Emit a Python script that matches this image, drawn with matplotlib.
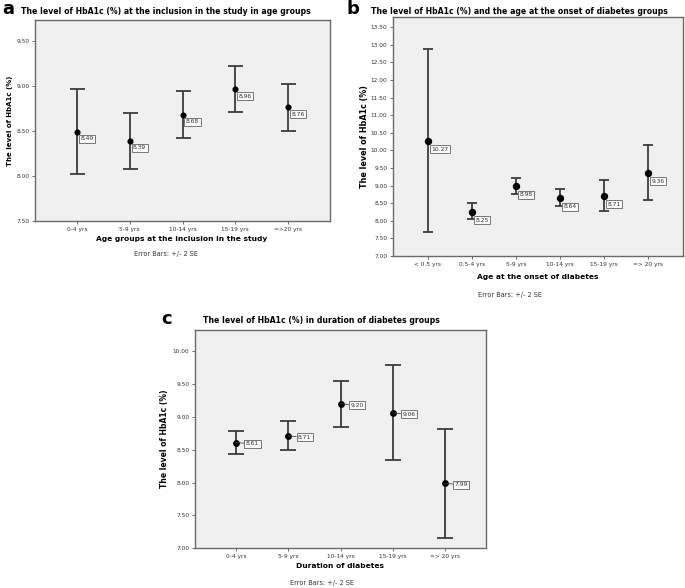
import matplotlib
matplotlib.use('Agg')
import matplotlib.pyplot as plt
import numpy as np

W, H = 685, 588

# ---- data ----
a_cats = ['0-4 yrs', '5-9 yrs', '10-14 yrs', '15-19 yrs', '=>20 yrs']
a_mean = [8.49, 8.39, 8.68, 8.96, 8.76]
a_lo = [8.02, 8.08, 8.42, 8.71, 8.50]
a_hi = [8.97, 8.70, 8.94, 9.22, 9.02]
a_yticks = [7.50, 8.00, 8.50, 9.00, 9.50]

b_cats = ['< 0.5 yrs', '0.5-4 yrs', '5-9 yrs', '10-14 yrs', '15-19 yrs', '=> 20 yrs']
b_mean = [10.27, 8.25, 8.98, 8.64, 8.71, 9.36]
b_lo = [7.69, 8.04, 8.76, 8.41, 8.29, 8.59]
b_hi = [12.87, 8.50, 9.22, 8.91, 9.15, 10.15]
b_yticks = [7.00, 7.50, 8.00, 8.50, 9.00, 9.50, 10.00, 10.50, 11.00, 11.50,
            12.00, 12.50, 13.00, 13.50]

c_cats = ['0-4 yrs', '5-9 yrs', '10-14 yrs', '15-19 yrs', '=> 20 yrs']
c_mean = [8.61, 8.71, 9.20, 9.06, 7.99]
c_lo = [8.44, 8.49, 8.85, 8.34, 7.16]
c_hi = [8.79, 8.93, 9.55, 9.79, 8.82]
c_yticks = [7.00, 7.50, 8.00, 8.50, 9.00, 9.50, 10.00]

fig = plt.figure(figsize=(W / 100, H / 100), dpi=100)
fig.patch.set_facecolor('white')


def ftext(x, y, s, **kw):
    fig.text(x / W, 1 - y / H, s, **kw)


def panel(rect, cats, mean, lo, hi, yticks, ylim, title, tpos, xlabel, xlpos,
          eb_pos, letter, lpos, ylab_x, ylab_fs, cap, ms, lab_off, leader):
    l, t, r, b = rect
    ax = fig.add_axes([l / W, 1 - b / H, (r - l) / W, (b - t) / H])
    ax.set_facecolor('#f0f0f0')
    for s in ax.spines.values():
        s.set_color('#6a6a6a')
        s.set_linewidth(1.0)
    mean = np.array(mean)
    lo = np.array(lo)
    hi = np.array(hi)
    x = np.arange(len(cats))
    ax.errorbar(x, mean, yerr=[mean - lo, hi - mean], fmt='o', color='black',
                ms=ms, ecolor='#3c3c3c', elinewidth=1.3, capsize=cap,
                capthick=1.3, zorder=3)
    for xi, m in zip(x, mean):
        kw = {}
        if leader:
            kw['arrowprops'] = dict(arrowstyle='-', color='#444444', lw=0.6,
                                    shrinkA=0, shrinkB=0)
        ax.annotate(f'{m:.2f}', (xi, m), xytext=lab_off,
                    textcoords='offset points', fontsize=4.3, ha='left',
                    va='center', color='#333333',
                    bbox=dict(boxstyle='square,pad=0.25', fc='#fafafa',
                              ec='#777777', lw=0.7), zorder=4, **kw)
    ax.set_xlim(-0.79, len(cats) - 1 + 0.79)
    ax.set_ylim(*ylim)
    ax.set_xticks(x)
    ax.set_xticklabels(cats, fontsize=4.2, color='#333333')
    ax.set_yticks(yticks)
    ax.set_yticklabels([f'{v:.2f}' for v in yticks], fontsize=4.2,
                       color='#333333')
    ax.tick_params(length=2.5, width=0.6, color='#555555', pad=1.5)
    ftext(tpos[0], tpos[1], title, fontsize=5.6, fontweight='bold',
          ha='center', va='center')
    ftext(xlpos[0], xlpos[1], xlabel, fontsize=5.4, fontweight='bold',
          ha='center', va='center')
    ftext(eb_pos[0], eb_pos[1], 'Error Bars: +/- 2 SE', fontsize=4.7,
          ha='center', va='center', color='#333333')
    ftext(ylab_x, (t + b) / 2, 'The level of HbA1c (%)', fontsize=ylab_fs,
          fontweight='bold', rotation=90, ha='center', va='center')
    ftext(lpos[0], lpos[1], letter, fontsize=13, fontweight='bold',
          ha='left', va='center')
    return ax


panel((35, 20, 330, 221), a_cats, a_mean, a_lo, a_hi, a_yticks, (7.5, 9.73),
      'The level of HbA1c (%) at the inclusion in the study in age groups',
      (166, 11), 'Age groups at the inclusion in the study', (182, 239),
      (166, 254), 'a', (2, 9), 10, 5.0, 5.4, 3.4, (2.5, -5), False)

panel((393, 17, 683, 256), b_cats, b_mean, b_lo, b_hi, b_yticks, (7.0, 13.79),
      'The level of HbA1c (%) and the age at the onset of diabetes groups',
      (519, 11), 'Age at the onset of diabetes', (538, 277),
      (510, 295), 'b', (346, 9), 365, 5.8, 3.6, 4.3, (2.5, -6), False)

panel((195, 329.5, 486, 548.3), c_cats, c_mean, c_lo, c_hi, c_yticks,
      (7.0, 10.33),
      'The level of HbA1c (%) in duration of diabetes groups',
      (321, 320), 'Duration of diabetes', (340, 566),
      (322, 583), 'c', (161, 319), 165, 5.5, 5.8, 3.9, (7, -1), True)

fig.savefig('out.png', dpi=100, facecolor='white')
